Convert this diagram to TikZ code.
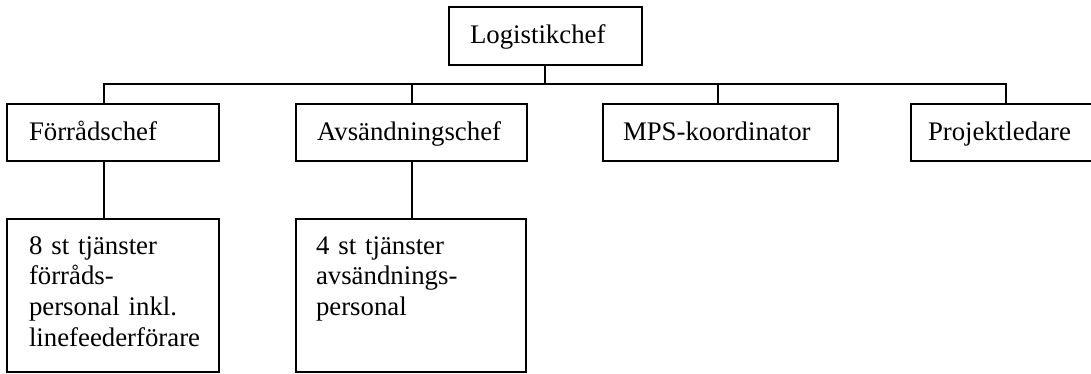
\documentclass[tikz,border=0pt]{standalone}
\usepackage{fontspec}
\setmainfont{Liberation Serif}
\usetikzlibrary{calc}

\begin{document}
\begin{tikzpicture}[x=1pt,y=-1pt,
  orgbox/.style={draw=black, line width=1.6pt, rectangle, inner sep=0pt, outer sep=0pt, anchor=north west},
  orgtext/.style={inner sep=0pt, outer sep=0pt, anchor=base west, align=left,
    font=\fontsize{26.8}{30.7}\selectfont},
  link/.style={draw=black, line width=1.6pt}]

  \useasboundingbox (0,0) rectangle (1091,373);

  % top level
  \node[orgbox, minimum width=193pt, minimum height=58pt] (log) at (449,7) {};
  \node[orgtext] (logt) at ($(log.north west)+(21,36)$) {Logistikchef};

  % second level
  \node[orgbox, minimum width=212pt, minimum height=57pt] (forr) at (7,104) {};
  \node[orgtext] (forrt) at ($(forr.north west)+(22,36)$) {Förrådschef};

  \node[orgbox, minimum width=231pt, minimum height=57pt] (avs) at (296,104) {};
  \node[orgtext] (avst) at ($(avs.north west)+(21,36)$) {Avsändningschef};

  \node[orgbox, minimum width=235pt, minimum height=57pt] (mps) at (603,104) {};
  \node[orgtext] (mpst) at ($(mps.north west)+(20,36)$) {MPS-koordinator};

  \node[orgbox, minimum width=190pt, minimum height=57pt] (proj) at (911,104) {};
  \node[orgtext] (projt) at ($(proj.north west)+(17,36)$) {Projektledare};

  % third level
  \node[orgbox, minimum width=212pt, minimum height=153pt] (forrp) at (7,219) {};
  \node[orgtext, text width=200pt] (forrpt) at ($(forrp.north west)+(22,35)$)
    {8 st tjänster\\förråds-\\personal inkl.\\linefeederförare};

  \node[orgbox, minimum width=230pt, minimum height=153pt] (avsp) at (296,219) {};
  \node[orgtext, text width=200pt] (avspt) at ($(avsp.north west)+(20,35)$)
    {4 st tjänster\\avsändnings-\\personal};

  % branch points
  \coordinate (bus) at (545,84);
  \coordinate (forrtop) at (104,104);
  \coordinate (avstop) at (412,104);
  \coordinate (mpstop) at (718,104);
  \coordinate (projtop) at (1006,104);

  % connectors
  \draw[link] (log.south -| bus) -- (bus);
  \draw[link] (forrtop) |- (projtop |- bus) -- (projtop);
  \draw[link] (avstop |- bus) -- (avstop);
  \draw[link] (mpstop |- bus) -- (mpstop);
  \draw[link] (forr.south -| forrtop) -- (forrp.north -| forrtop);
  \draw[link] (avs.south -| avstop) -- (avsp.north -| avstop);
\end{tikzpicture}
\end{document}
